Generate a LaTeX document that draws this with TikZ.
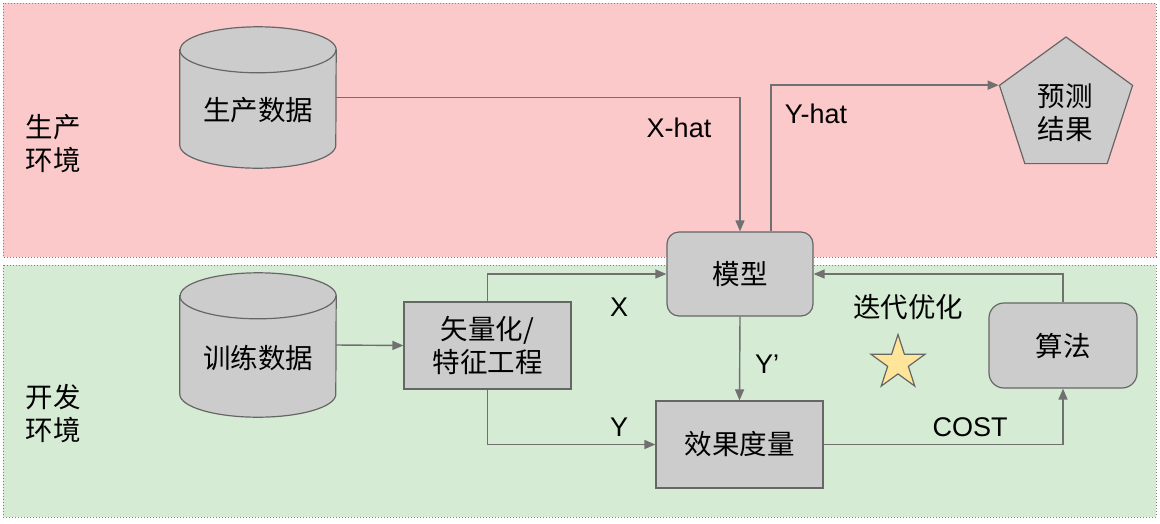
\documentclass[tikz,border=0pt]{standalone}
\usepackage{fontspec}
\setmainfont{Liberation Sans}
\newfontfamily\cjk{Noto Sans CJK SC}
\usetikzlibrary{arrows.meta,shapes.geometric}
\definecolor{prodbg}{HTML}{FCC9CA}
\definecolor{devbg}{HTML}{D5EBD3}
\definecolor{boxfill}{HTML}{CCCCCC}
\definecolor{boxline}{HTML}{666666}
\definecolor{flowline}{HTML}{707070}
\definecolor{starfill}{HTML}{FFE599}
\tikzset{
  env/.style={draw=gray, dotted, line width=1pt},
  txt/.style={font=\fontsize{27}{33}\selectfont, align=center},
  cn/.style={font=\cjk\fontsize{27.5}{33}\selectfont, align=center},
  dbpos/.style={minimum width=156pt, minimum height=141pt, inner sep=0pt},
  dbshape/.style={draw=boxline, fill=boxfill, line width=1.2pt},
  box/.style={draw=boxline, fill=boxfill, line width=1.2pt, inner sep=0pt, cn},
  flow/.style={draw=flowline, line width=1.4pt, -{Triangle[length=11pt,width=9pt]}},
}
% cylinder drawn round an empty node
\newcommand{\dbcyl}[1]{%
  \filldraw[dbshape] ([yshift=-23pt]#1.north west) -- ([yshift=23pt]#1.south west)
    arc[start angle=180, end angle=360, x radius=78pt, y radius=23pt]
    -- ([yshift=-23pt]#1.north east)
    arc[start angle=0, end angle=180, x radius=78pt, y radius=23pt] -- cycle;
  \draw[dbshape, fill=none] ([yshift=-23pt]#1.north west)
    arc[start angle=180, end angle=360, x radius=78pt, y radius=23pt];}
\begin{document}
\begin{tikzpicture}[x=1pt, y=-1pt]
  \useasboundingbox (0,0) rectangle (1160,523);
  % two environments
  \fill[prodbg] (3,3) rectangle (1156,257);
  \draw[env] (3,3) rectangle (1156,257);
  \fill[devbg] (3,265) rectangle (1156,517);
  \draw[env] (3,265) rectangle (1156,517);
  \node[cn] (prodenv) at (53,144) {生产\\环境};
  \node[cn] (devenv) at (53,414) {开发\\环境};

  % data stores
  \node[dbpos] (prod) at (258,97.5) {};
  \dbcyl{prod}
  \node[cn] (prodtxt) at (258,110) {生产数据};
  \node[dbpos, minimum height=144pt] (train) at (258,345) {};
  \dbcyl{train}
  \node[cn] (traintxt) at (258,358) {训练数据};

  % processing boxes
  \node[box, rounded corners=12pt, minimum width=146pt, minimum height=84pt]
    (model) at (740,274) {模型};
  \node[box, minimum width=167pt, minimum height=87pt]
    (vec) at (487.5,345.5) {矢量化/\\特征工程};
  \node[box, minimum width=167pt, minimum height=87pt]
    (eval) at (739.5,444.5) {效果度量};
  \node[box, rounded corners=15pt, minimum width=148pt, minimum height=85pt]
    (algo) at (1063,345.5) {算法};
  \node[regular polygon, regular polygon sides=5, minimum size=140pt, draw=boxline,
    fill=boxfill, line width=1.2pt, inner sep=0pt] (res) at (1066,107) {};
  \node[cn] (restxt) at (1065,113) {预测\\结果};
  \node[star, star points=5, star point ratio=2.618, minimum size=57pt, inner sep=0pt,
    draw=boxline, fill=starfill, line width=1.2pt] (opt) at (898,363) {};

  % connectors
  \draw[flow] (prod.east) -| (model.north);
  \draw[flow] ([xshift=31pt]model.north) |- (res.corner 2);
  \draw[flow] (train.east) -- (vec.west);
  \draw[flow] (vec.north) |- (model.west);
  \draw[flow] (vec.south) |- (eval.west);
  \draw[flow] (model.south) -- (eval.north);
  \draw[flow] (eval.east) -| (algo.south);
  \draw[flow] (algo.north) |- (model.east);

  % labels
  \node[txt] (xhat) at (679,128) {X-hat};
  \node[txt] (yhat) at (816,114) {Y-hat};
  \node[txt] (xlbl) at (619,307) {X};
  \node[txt] (ylbl) at (619,427) {Y};
  \node[txt] (ypred) at (767,364) {Y’};
  \node[txt] (cost) at (970,427) {COST};
  \node[cn] (iter) at (908,307) {迭代优化};
\end{tikzpicture}
\end{document}
